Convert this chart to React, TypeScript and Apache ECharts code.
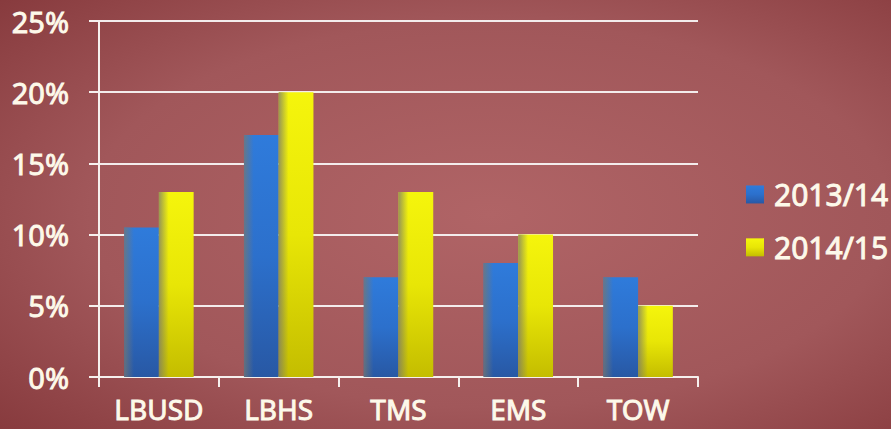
import React, { useEffect, useRef } from "react";
import * as echarts from "echarts";

const categories = ["LBUSD", "LBHS", "TMS", "EMS", "TOW"];
const seriesNames = ["2013/14", "2014/15"];
const values2013 = [10.5, 17, 7, 8, 7];
const values2014 = [13, 20, 13, 10, 5];
const yTicks = [0, 5, 10, 15, 20, 25];

const TEXT = "#fdf9ea";
const FONT = "'Noto Sans', 'DejaVu Sans', sans-serif";
const textThicken = { textBorderColor: TEXT, textBorderWidth: 0.9 };

const blueFill = new echarts.graphic.LinearGradient(0, 0, 0, 1, [
  { offset: 0, color: "#2f7bdb" },
  { offset: 0.5, color: "#2c70cc" },
  { offset: 1, color: "#2858a4" },
]);
const yellowFill = new echarts.graphic.LinearGradient(0, 0, 0, 1, [
  { offset: 0, color: "#f5f50c" },
  { offset: 0.5, color: "#e8e606" },
  { offset: 1, color: "#c4bd00" },
]);
const edgeShade = new echarts.graphic.LinearGradient(0, 0, 1, 0, [
  { offset: 0, color: "rgba(120,120,110,0.75)" },
  { offset: 0.28, color: "rgba(120,120,110,0)" },
  { offset: 1, color: "rgba(120,120,110,0)" },
]);

export default function App() {
  const ref = useRef<HTMLDivElement>(null);
  useEffect(() => {
    if (!ref.current) return;
    const chart = echarts.init(ref.current, undefined, { renderer: "svg" });
    const barCommon = {
      type: "bar" as const,
      barGap: "0%",
      barCategoryGap: "42%",
    };
    chart.setOption({
      animation: false,
      backgroundColor: {
        type: "radial",
        x: 0.55,
        y: 0.5,
        r: 0.75,
        colorStops: [
          { offset: 0, color: "#b06466" },
          { offset: 0.6, color: "#a1575a" },
          { offset: 1, color: "#873a3d" },
        ],
      },
      legend: {
        orient: "vertical",
        left: 741,
        top: 174,
        itemWidth: 18,
        itemHeight: 18,
        itemGap: 22,
        icon: "rect",
        data: seriesNames,
        textStyle: {
          color: TEXT,
          fontSize: 30,
          fontFamily: FONT,
          padding: [0, 0, 0, 5],
          ...textThicken,
        },
      },
      grid: { left: 99, right: 193, top: 21, bottom: 52, containLabel: false },
      xAxis: [
        {
          type: "category",
          data: categories,
          axisLine: { lineStyle: { color: "#f6f0ee", width: 2 } },
          axisTick: { show: true, interval: 0, length: 10, lineStyle: { color: "#f6f0ee", width: 2 } },
          axisLabel: {
            color: TEXT,
            fontSize: 28,
            fontFamily: FONT,
            margin: 18,
            interval: 0,
            hideOverlap: false,
            ...textThicken,
          },
        },
        {
          type: "category",
          data: categories,
          show: false,
        },
      ],
      yAxis: {
        type: "value",
        min: 0,
        max: 25,
        interval: 5,
        axisLine: { show: true, lineStyle: { color: "#f6f0ee", width: 2 } },
        axisTick: { show: true, length: 10, lineStyle: { color: "#f6f0ee", width: 2 } },
        splitLine: { lineStyle: { color: "#f3ecec", width: 2 } },
        axisLabel: {
          color: TEXT,
          fontSize: 29,
          fontFamily: FONT,
          margin: 30,
          formatter: (v: number) => (yTicks.includes(v) ? `${v}%` : ""),
          ...textThicken,
        },
      },
      series: [
        { ...barCommon, name: seriesNames[0], data: values2013, itemStyle: { color: blueFill } },
        { ...barCommon, name: seriesNames[1], data: values2014, itemStyle: { color: yellowFill } },
        {
          ...barCommon,
          name: "shade1",
          xAxisIndex: 1,
          data: values2013,
          itemStyle: { color: edgeShade },
          silent: true,
        },
        {
          ...barCommon,
          name: "shade2",
          xAxisIndex: 1,
          data: values2014,
          itemStyle: { color: edgeShade },
          silent: true,
        },
      ],
    });
    return () => chart.dispose();
  }, []);
  return (
    <div
      ref={ref}
      style={{ position: "absolute", left: 0, top: 0, width: 891, height: 429 }}
    />
  );
}
